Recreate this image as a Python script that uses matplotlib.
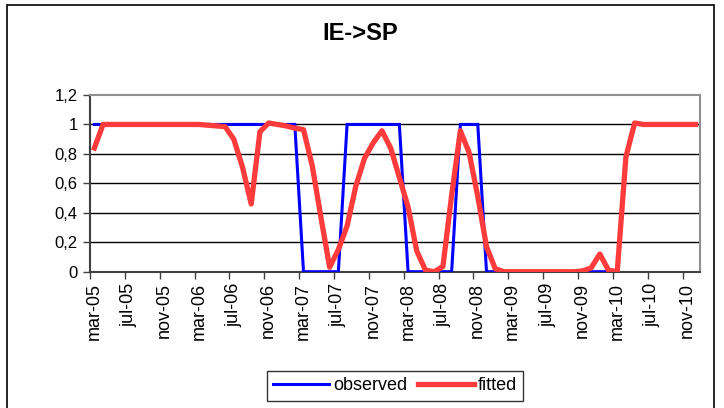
import numpy as np
import matplotlib
matplotlib.use("Agg")
import matplotlib.pyplot as plt
from matplotlib.patches import Rectangle

plt.rcParams['font.family'] = ['Liberation Sans', 'DejaVu Sans']

month_names = ['jan', 'feb', 'mar', 'apr', 'may', 'jun',
               'jul', 'aug', 'sep', 'oct', 'nov', 'dec']
years = ['05', '06', '07', '08', '09', '10']
categories = [f"{m}-{y}" for y in years for m in month_names][2:]  # mar-05 .. dec-10

nan = np.nan
observed = ([1] * 24 + [0] * 5 + [1] * 7 + [0] * 6 + [1] * 3 + [0] * 16
            + [nan] + [1] * 8)

fitted = [0.84, 1.0, 1.0, 1.0, 1.0, 1.0, 1.0, 1.0, 1.0, 1.0, 1.0, 1.0, 1.0,
          0.995, 0.99, 0.985, 0.90, 0.71, 0.46, 0.95, 1.01, 1.0, 0.99, 0.975,
          0.965, 0.72, 0.37, 0.03, 0.15, 0.31, 0.58, 0.77, 0.875, 0.957,
          0.84, 0.64, 0.44, 0.14, 0.01, 0.0, 0.035, 0.52, 0.957, 0.81, 0.51,
          0.17, 0.02, 0.0,
          0.0, 0.0, 0.0, 0.0, 0.0, 0.0, 0.0, 0.0,
          0.005, 0.025, 0.12, 0.01, 0.0, 0.78, 1.01,
          1.0, 1.0, 1.0, 1.0, 1.0, 1.0, 1.0]

yticks = [0, 0.2, 0.4, 0.6, 0.8, 1.0, 1.2]
ytick_labels = ['0', '0,2', '0,4', '0,6', '0,8', '1', '1,2']
title = 'IE->SP'

fig = plt.figure(figsize=(7.24, 4.08), dpi=100)
ax = fig.add_axes([90 / 724, 1 - 271.7 / 408, 610 / 724, (271.7 - 95) / 408])

x = np.arange(len(categories))
ax.plot(x, observed, color='#0000FF', lw=2.2, label='observed', zorder=3,
        solid_joinstyle='miter')
ax.plot(x, fitted, color='#FF3B3B', lw=3.8, label='fitted', zorder=4,
        solid_joinstyle='round')

ax.set_xlim(-0.5, len(categories) - 0.5)
ax.set_ylim(0, 1.2)

for v in yticks[1:-1]:
    ax.axhline(v, color='black', lw=1.0, zorder=1)

ax.set_yticks(yticks)
ax.set_yticklabels(ytick_labels, fontsize=12)
ax.tick_params(axis='y', direction='out', length=5, width=1, color='#404040', pad=4)

label_idx = list(range(0, len(categories), 4))
ax.set_xticks(label_idx)
ax.set_xticklabels([categories[i] for i in label_idx], rotation=90, fontsize=13)
ax.tick_params(axis='x', length=0, pad=8)
ax.set_xticks(np.arange(-0.5, len(categories), 4), minor=True)
ax.tick_params(axis='x', which='minor', direction='out', length=5, width=1,
               color='#404040')

for s in ['left', 'bottom']:
    ax.spines[s].set_color('#404040')
    ax.spines[s].set_linewidth(1.5)
for s in ['top', 'right']:
    ax.spines[s].set_color('#909090')
    ax.spines[s].set_linewidth(1.5)

fig.text(360 / 724, 1 - 34 / 408, title, ha='center', va='center',
         fontsize=17, fontweight='bold')

leg = fig.legend(loc='center', bbox_to_anchor=(395 / 724, 1 - 386 / 408),
                 ncol=2, fontsize=13, frameon=True, fancybox=False,
                 handlelength=3.1, handletextpad=0.2, columnspacing=0.6,
                 borderpad=0.35, borderaxespad=0)
leg.get_frame().set_edgecolor('black')
leg.get_frame().set_linewidth(1.0)

fig.patches.append(Rectangle((7 / 724, -0.05), 707 / 724, 1.05 - 5 / 408,
                             transform=fig.transFigure, fill=False,
                             edgecolor='black', lw=1.2))

fig.savefig('out.png', dpi=100)
